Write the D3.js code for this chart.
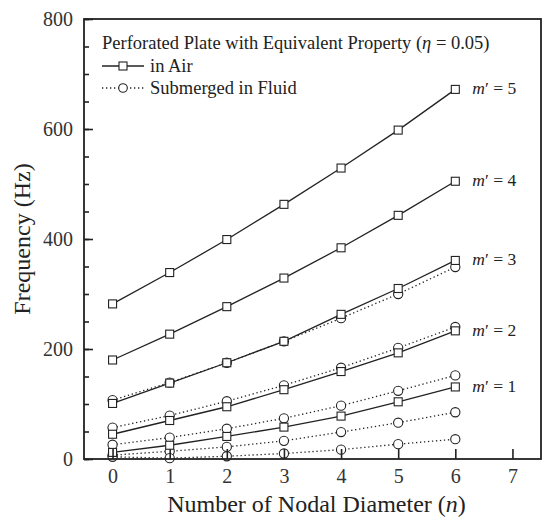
<!DOCTYPE html>
<html>
<head>
<meta charset="utf-8">
<script src="https://cdn.jsdelivr.net/npm/d3@7"></script>
<style>
  body { margin: 0; background: #fff; }
  svg { font-family: "Liberation Serif", "Times New Roman", serif; }
</style>
</head>
<body>
<svg id="chart"></svg>
<script>
const width = 544, height = 522;
const margin = { top: 19, right: 3, bottom: 63, left: 84 };

// nodal diameter n
const nodal = [0, 1, 2, 3, 4, 5, 6];

// in air (squares, solid)
const air1 = [12, 25, 41, 58, 78, 104, 131];
const air2 = [45, 70, 95, 126, 159, 193, 233];
const air3 = [101, 138, 175, 214, 263, 310, 361];
const air4 = [180, 227, 277, 329, 384, 443, 505];
const air5 = [282, 339, 399, 463, 529, 598, 672];

// submerged in fluid (circles, dotted)
const fluidA = [107, 139, 175, 214, 256, 300, 349];
const fluidB = [57, 79, 105, 134, 166, 202, 240];
const fluidC = [26, 39, 55, 74, 97, 124, 152];
const fluidD = [7, 14, 22, 33, 49, 66, 85];
const fluidE = [4, 1.5, 5, 10, 17, 27, 36];

const modeLabels = ["1", "2", "3", "4", "5"];
const xTicks = [0, 1, 2, 3, 4, 5, 6, 7];
const yTicks = [0, 200, 400, 600, 800];

const airSeries = [air1, air2, air3, air4, air5];
const fluidSeries = [fluidA, fluidB, fluidC, fluidD, fluidE];

const svg = d3.select("#chart")
    .attr("width", width)
    .attr("height", height);

const x = d3.scaleLinear().domain([-0.5, 7.5]).range([margin.left, width - margin.right]);
const y = d3.scaleLinear().domain([0, 800]).range([height - margin.bottom, margin.top]);

const line = d3.line()
    .x((d, i) => x(nodal[i]))
    .y(d => y(d));

// fluid lines (dotted)
svg.append("g").selectAll("path")
    .data(fluidSeries)
    .join("path")
    .attr("d", line)
    .attr("fill", "none")
    .attr("stroke", "#222")
    .attr("stroke-width", 1.3)
    .attr("stroke-dasharray", "1.3,2.7");

// air lines (solid)
svg.append("g").selectAll("path")
    .data(airSeries)
    .join("path")
    .attr("d", line)
    .attr("fill", "none")
    .attr("stroke", "#222")
    .attr("stroke-width", 1.3);

// circle markers
fluidSeries.forEach(s => {
    svg.append("g").selectAll("circle")
        .data(s)
        .join("circle")
        .attr("cx", (d, i) => x(nodal[i]))
        .attr("cy", d => y(d))
        .attr("r", 4.6)
        .attr("fill", "#fff")
        .attr("stroke", "#222")
        .attr("stroke-width", 1.1);
});

// square markers
const sq = 8;
airSeries.forEach(s => {
    svg.append("g").selectAll("rect")
        .data(s)
        .join("rect")
        .attr("x", (d, i) => x(nodal[i]) - sq / 2)
        .attr("y", d => y(d) - sq / 2)
        .attr("width", sq)
        .attr("height", sq)
        .attr("fill", "#fff")
        .attr("stroke", "#222")
        .attr("stroke-width", 1.1);
});

// frame
svg.append("rect")
    .attr("x", margin.left)
    .attr("y", margin.top)
    .attr("width", width - margin.left - margin.right)
    .attr("height", height - margin.top - margin.bottom)
    .attr("fill", "none")
    .attr("stroke", "#222")
    .attr("stroke-width", 1.8);

// axes, ticks pointing inward
const xAxis = svg.append("g")
    .attr("transform", `translate(0,${height - margin.bottom})`)
    .call(d3.axisBottom(x).tickValues(xTicks).tickSizeInner(-10).tickSizeOuter(0).tickPadding(10));

const yMinor = svg.append("g")
    .attr("transform", `translate(${margin.left},0)`)
    .call(d3.axisLeft(y).tickValues(d3.range(0, 801, 50)).tickSizeInner(-5).tickSizeOuter(0).tickFormat(""));

const yAxis = svg.append("g")
    .attr("transform", `translate(${margin.left},0)`)
    .call(d3.axisLeft(y).tickValues(yTicks).tickSizeInner(-9).tickSizeOuter(0).tickPadding(11));

[xAxis, yAxis, yMinor].forEach(g => {
    g.attr("font-family", null);
    g.select(".domain").remove();
    g.selectAll("line").attr("stroke", "#222").attr("stroke-width", 1.6);
    g.selectAll("text")
        .attr("font-size", 20)
        .attr("fill", "#333");
});

// mode labels m' = k
svg.append("g").selectAll("text")
    .data(modeLabels)
    .join("text")
    .attr("x", x(6) + 17)
    .attr("y", (d, i) => y(airSeries[i][airSeries[i].length - 1]) + 5)
    .attr("font-size", 17.5)
    .attr("fill", "#222")
    .each(function(d) {
        const t = d3.select(this);
        t.append("tspan").attr("font-style", "italic").text("m");
        t.append("tspan").text("\u2032 = " + d);
    });

// axis titles
svg.append("text")
    .attr("x", (margin.left + width - margin.right) / 2 + 4)
    .attr("y", 512)
    .attr("text-anchor", "middle")
    .attr("font-size", 24)
    .attr("fill", "#222")
    .call(t => {
        t.append("tspan").text("Number of Nodal Diameter (");
        t.append("tspan").attr("font-style", "italic").text("n");
        t.append("tspan").text(")");
    });

svg.append("text")
    .attr("transform", `translate(30,${(margin.top + height - margin.bottom) / 2}) rotate(-90)`)
    .attr("text-anchor", "middle")
    .attr("font-size", 24)
    .attr("fill", "#222")
    .text("Frequency (Hz)");

// legend
const legend = svg.append("g").attr("transform", "translate(102,0)");
legend.append("text")
    .attr("x", 0)
    .attr("y", 49)
    .attr("font-size", 18.5)
    .attr("fill", "#222")
    .call(t => {
        t.append("tspan").text("Perforated Plate with Equivalent Property (");
        t.append("tspan").attr("font-style", "italic").text("\u03B7");
        t.append("tspan").text(" = 0.05)");
    });

const legendRows = [
    { label: "in Air", dash: null, shape: "square", y: 66 },
    { label: "Submerged in Fluid", dash: "1.3,2.7", shape: "circle", y: 88 }
];

legendRows.forEach(r => {
    legend.append("line")
        .attr("x1", 0).attr("x2", 42)
        .attr("y1", r.y).attr("y2", r.y)
        .attr("stroke", "#222")
        .attr("stroke-width", 1.3)
        .attr("stroke-dasharray", r.dash);
    if (r.shape === "square") {
        legend.append("rect")
            .attr("x", 21 - sq / 2).attr("y", r.y - sq / 2)
            .attr("width", sq).attr("height", sq)
            .attr("fill", "#fff").attr("stroke", "#222").attr("stroke-width", 1.1);
    } else {
        legend.append("circle")
            .attr("cx", 21).attr("cy", r.y).attr("r", 4.3)
            .attr("fill", "#fff").attr("stroke", "#222").attr("stroke-width", 1.1);
    }
    legend.append("text")
        .attr("x", 48)
        .attr("y", r.y + 6)
        .attr("font-size", 18.5)
        .attr("fill", "#222")
        .text(r.label);
});
</script>
</body>
</html>
